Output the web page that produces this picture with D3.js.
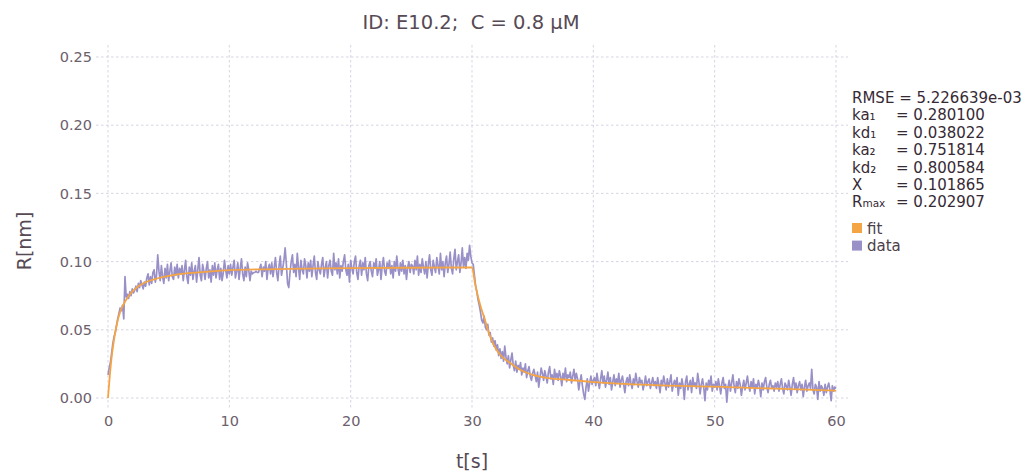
<!DOCTYPE html>
<html>
<head>
<meta charset="utf-8">
<script src="https://cdn.jsdelivr.net/npm/d3@7"></script>
<style>
  body { margin: 0; background: #fff; }
  text { font-family: "DejaVu Sans", sans-serif; white-space: pre; }
</style>
</head>
<body>
<script>
var w = 1024;
var h = 474;

// Data
var title = "ID: E10.2;  C = 0.8 \u03bcM";
var xTicks = [0, 10, 20, 30, 40, 50, 60];
var yTicks = [0, 0.05, 0.10, 0.15, 0.20, 0.25];
var tStep = 0.1; // sampling interval of the measured trace, s

// measured response, R x 1000 (one value every 0.1 s, 0..60 s)
var rData = [
  17,22,26,33,40,45,48,53,58,62,66,64,68,58,89,74,76,73,78,75,80,77,79,82,78,84,81,86,83,80,85,
  82,88,91,83,89,84,92,94,85,90,105,93,86,97,89,84,95,88,98,86,93,99,89,87,96,90,98,88,95,91,
  97,86,94,101,89,84,96,90,99,87,93,97,85,94,103,90,86,98,93,87,95,100,88,94,85,97,90,99,88,94,98,87,95,86,92,101,94,88,97,91,
  98,90,96,101,88,93,99,87,95,102,91,86,96,89,99,94,86,93,91,92,92,93,92,92,95,98,89,96,93,100,87,95,98,91,99,89,96,103,92,86,97,104,90,95,101,110,98,84,81,92,
  100,105,92,98,89,106,96,87,101,94,91,102,97,88,99,93,101,89,97,104,92,87,100,94,91,98,103,89,95,100,88,97,101,93,90,106,94,99,91,102,88,97,93,100,105,94,90,98,85,101,
  95,91,100,104,92,87,97,101,90,99,94,103,91,86,97,100,93,89,99,95,102,90,94,100,87,97,103,93,90,99,95,101,91,97,88,100,93,104,95,90,99,93,101,91,97,87,96,100,92,98,
  97,91,101,94,104,90,98,92,102,96,91,100,88,98,105,94,90,101,96,92,103,97,91,106,94,100,89,99,104,92,98,107,95,91,102,109,94,100,105,92,99,110,96,103,95,106,101,112,104,99,
  98,90,82,78,72,68,63,57,55,60,52,50,54,46,48,41,44,38,42,35,39,31,36,29,34,27,38,30,25,31,22,28,33,24,20,27,19,24,21,26,17,22,19,25,15,20,23,16,13,18,
  21,17,12,19,8,15,22,18,13,20,16,11,19,23,14,17,10,21,15,18,13,20,16,9,18,14,22,12,17,15,19,11,16,21,13,18,14,6,12,17,9,3,-1,8,14,5,11,16,10,13,
  15,9,18,12,7,14,20,11,16,8,13,19,10,15,6,12,17,9,14,11,18,8,13,16,10,4,12,15,9,17,11,7,14,10,18,12,8,15,11,13,6,10,16,9,12,14,7,11,15,9,
  12,7,15,10,4,13,9,16,11,6,14,8,12,17,5,10,13,8,15,2,11,7,14,9,-1,12,16,6,10,13,4,15,9,11,7,18,12,3,10,14,8,-2,11,6,13,9,16,5,10,8,
  12,6,14,9,3,11,15,7,10,-3,8,13,5,11,17,9,4,12,7,14,10,2,8,13,6,11,16,9,5,12,8,14,3,10,7,13,9,1,11,6,12,15,8,4,10,13,7,9,5,11,
  8,12,5,10,14,7,3,11,9,6,13,8,2,10,15,7,11,4,9,12,6,10,1,8,13,5,9,11,7,21,6,3,10,8,-1,12,5,9,7,2,10,4,8,11,6,-2,9,5,8,7
];

// fitted model curve
var fitT = [0,0.25,0.5,0.75,1,1.5,2,2.5,3,4,5,6,8,10,15,20,25,30,30.25,30.5,30.75,31,31.5,32,32.5,33,34,35,36,38,40,45,50,55,60];
var fitR = [0,0.026,0.043,0.055,0.063,0.072,0.078,0.082,0.0845,0.0875,0.0895,0.091,0.0925,0.0937,0.0947,0.0952,0.0955,0.0957,
            0.084,0.074,0.066,0.059,0.045,0.0355,0.030,0.0266,0.0205,0.0170,0.0150,0.0132,0.0117,0.0095,0.0083,0.0068,0.0054];

var statNames = ["RMSE", "ka\u2081", "kd\u2081", "ka\u2082", "kd\u2082", "X", "R"];
var statValues = ["5.226639e-03", "0.280100", "0.038022", "0.751814", "0.800584", "0.101865", "0.202907"];
var legendNames = ["fit", "data"];
var colors = ["#f4a443", "#9a90c8"];

var data = rData.map(function(v, i) { return [i * tStep, v / 1000]; });
var fit = fitT.map(function(t, i) { return [t, fitR[i]]; });

var svg = d3.select("body").append("svg")
  .attr("width", w)
  .attr("height", h);

// Scales: panel runs a little beyond the data range
var xScale = d3.scaleLinear().domain([0, 60]).range([108, 836]);
var yScale = d3.scaleLinear().domain([0, 0.25]).range([398, 57]);
var panelLeft = 96, panelRight = 848, panelTop = 45, panelBottom = 409;

// Grid
svg.append("g").selectAll("line.vg")
  .data(xTicks).enter().append("line")
  .attr("x1", function(d) { return xScale(d); })
  .attr("x2", function(d) { return xScale(d); })
  .attr("y1", panelTop).attr("y2", panelBottom)
  .attr("stroke", "#d0d0e0").attr("stroke-width", 0.9)
  .attr("stroke-dasharray", "2.5,2.5");

svg.append("g").selectAll("line.hg")
  .data(yTicks).enter().append("line")
  .attr("y1", function(d) { return yScale(d); })
  .attr("y2", function(d) { return yScale(d); })
  .attr("x1", panelLeft).attr("x2", panelRight)
  .attr("stroke", "#d0d0e0").attr("stroke-width", 0.9)
  .attr("stroke-dasharray", "2.5,2.5");

// Axes (labels only, Gadfly style)
var xAxis = d3.axisBottom(xScale).tickValues(xTicks).tickSize(0).tickPadding(0)
  .tickFormat(d3.format("d"));
var gx = svg.append("g")
  .attr("transform", "translate(0," + 415 + ")")
  .call(xAxis);
gx.select(".domain").remove();
gx.selectAll("text").attr("font-size", 14.5).attr("fill", "#6c606b")
  .attr("font-family", "DejaVu Sans").attr("dy", "0.75em");

var yAxis = d3.axisLeft(yScale).tickValues(yTicks).tickSize(0).tickPadding(0)
  .tickFormat(d3.format(".2f"));
var gy = svg.append("g")
  .attr("transform", "translate(" + 92 + ",0)")
  .call(yAxis);
gy.select(".domain").remove();
gy.selectAll("text").attr("font-size", 14.5).attr("fill", "#6c606b")
  .attr("font-family", "DejaVu Sans");

// Lines
var line = d3.line()
  .x(function(d) { return xScale(d[0]); })
  .y(function(d) { return yScale(d[1]); });

svg.append("path")
  .datum(data)
  .attr("d", line)
  .attr("fill", "none")
  .attr("stroke", colors[1])
  .attr("stroke-width", 1.7)
  .attr("stroke-linejoin", "round");

svg.append("path")
  .datum(fit)
  .attr("d", line.curve(d3.curveMonotoneX))
  .attr("fill", "none")
  .attr("stroke", colors[0])
  .attr("stroke-width", 1.8);

// Titles
svg.append("text")
  .attr("x", 471).attr("y", 29)
  .attr("text-anchor", "middle")
  .attr("font-size", 19.5).attr("fill", "#564a55")
  .text(title);

svg.append("text")
  .attr("x", 472).attr("y", 468)
  .attr("text-anchor", "middle")
  .attr("font-size", 19).attr("fill", "#564a55")
  .text("t[s]");

svg.append("text")
  .attr("transform", "translate(31,241) rotate(-90)")
  .attr("text-anchor", "middle")
  .attr("font-size", 19).attr("fill", "#564a55")
  .text("R[nm]");

// Fit statistics
var stats = svg.append("g");
statNames.forEach(function(name, i) {
  var y = 103 + i * 17.4;
  var t = stats.append("text")
    .attr("x", 852).attr("y", y)
    .attr("font-size", 15).attr("fill", "#362a35");
  if (i === 0) {
    t.text(name + " = " + statValues[i]);
    return;
  }
  t.append("tspan").text(name);
  if (name === "R") t.append("tspan").attr("font-size", 10.5).text("max");
  stats.append("text")
    .attr("x", 896).attr("y", y)
    .attr("font-size", 15).attr("fill", "#362a35")
    .text("= " + statValues[i]);
});

// Legend
var legend = svg.append("g");
legendNames.forEach(function(name, i) {
  var y = 228 + i * 17.6;
  legend.append("rect")
    .attr("x", 852).attr("y", y - 5)
    .attr("width", 10).attr("height", 10)
    .attr("fill", colors[i]);
  legend.append("text")
    .attr("x", 867).attr("y", y + 5.5)
    .attr("font-size", 15).attr("fill", "#4c404b")
    .text(name);
});
</script>
</body>
</html>
